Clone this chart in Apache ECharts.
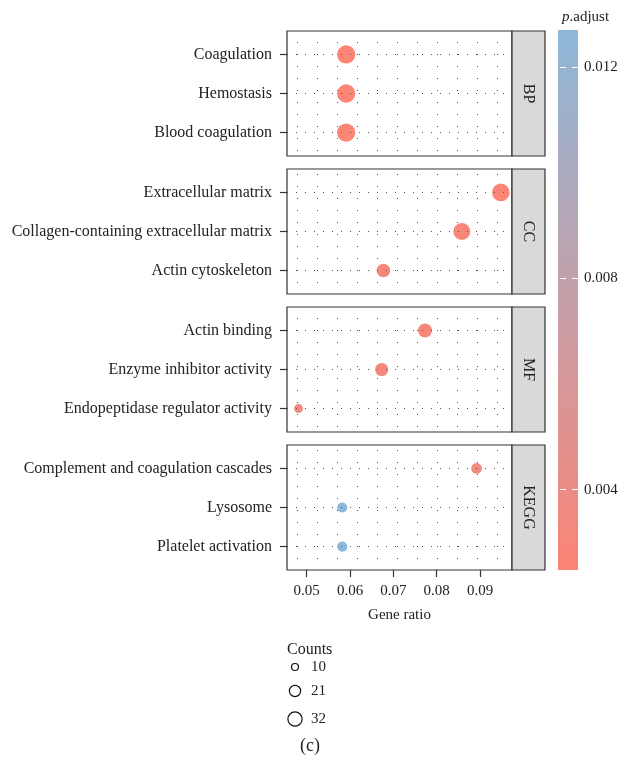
<!DOCTYPE html>
<html><head><meta charset="utf-8">
<script src="https://cdn.jsdelivr.net/npm/echarts@6/dist/echarts.min.js"></script>
<style>html,body{margin:0;padding:0;background:#fff}#c{width:623px;height:767px}</style>
</head><body><div id="c"></div>
<script>
// ---- data ----
const ontologies = ['BP', 'CC', 'MF', 'KEGG'];

const bpTerms = ['Coagulation', 'Hemostasis', 'Blood coagulation'];
const bpRatio = [0.0591, 0.0591, 0.0591];
const bpCounts = [32, 32, 32];
const bpPadj = [0.00248, 0.00250, 0.00252];

const ccTerms = ['Extracellular matrix', 'Collagen-containing extracellular matrix', 'Actin cytoskeleton'];
const ccRatio = [0.0948, 0.0858, 0.0677];
const ccCounts = [30, 28, 19];
const ccPadj = [0.0026, 0.0027, 0.0030];

const mfTerms = ['Actin binding', 'Enzyme inhibitor activity', 'Endopeptidase regulator activity'];
const mfRatio = [0.0773, 0.0673, 0.0481];
const mfCounts = [20, 18, 10];
const mfPadj = [0.0029, 0.0031, 0.0034];

const keggTerms = ['Complement and coagulation cascades', 'Lysosome', 'Platelet activation'];
const keggRatio = [0.0892, 0.0582, 0.0582];
const keggCounts = [13, 12, 12];
const keggPadj = [0.0034, 0.0127, 0.0127];

const xTicks = [0.05, 0.06, 0.07, 0.08, 0.09];
const pTicks = [0.004, 0.008, 0.012];
const countBreaks = [10, 21, 32];

// ---- build ----
const termSets = [bpTerms, ccTerms, mfTerms, keggTerms];
const ratioSets = [bpRatio, ccRatio, mfRatio, keggRatio];
const countSets = [bpCounts, ccCounts, mfCounts, keggCounts];
const padjSets = [bpPadj, ccPadj, mfPadj, keggPadj];

const allP = [].concat(bpPadj, ccPadj, mfPadj, keggPadj);
const pMin = Math.min.apply(null, allP);
const pMax = Math.max.apply(null, allP);

const LOW = '#FC8576', HIGH = '#8DB8D9';
const FONT = 'Liberation Serif';
const X_MIN = 0.04545, X_MAX = 0.09738;

function diam(c) { return Math.sqrt(81 + 11.5 * (c - 10)); }
function legendDiam(c) { return 0.78 * diam(c); }

// dotted texture
const tile = document.createElement('canvas');
tile.width = 20; tile.height = 12;
const tctx = tile.getContext('2d');
tctx.fillStyle = '#555';
tctx.fillRect(17, 6, 1, 1);
const dotPattern = { image: tile, repeat: 'repeat' };

const PANEL_LEFT = 287, PANEL_W = 225, PANEL_H = 125, PANEL_TOP = 31, PANEL_STEP = 138, STRIP_W = 33;
const TXT = '#222';

const grids = [], xAxes = [], yAxes = [], series = [], graphics = [];
ontologies.forEach((ont, i) => {
  const top = PANEL_TOP + PANEL_STEP * i;
  const last = i === ontologies.length - 1;
  grids.push({ left: PANEL_LEFT, top: top, width: PANEL_W, height: PANEL_H, show: true,
    borderColor: '#333', borderWidth: 1.2, backgroundColor: dotPattern });
  xAxes.push({ type: 'value', gridIndex: i, min: X_MIN, max: X_MAX, position: 'bottom',
    axisLine: { show: false, onZero: false }, splitLine: { show: false },
    axisTick: { show: last, customValues: xTicks, length: 7, lineStyle: { color: '#333', width: 1.2 } },
    axisLabel: { show: last, customValues: xTicks, formatter: v => v.toFixed(2), margin: 14,
      fontFamily: FONT, fontSize: 15, color: TXT },
    name: last ? 'Gene ratio' : '', nameLocation: 'middle', nameGap: 38,
    nameTextStyle: { fontFamily: FONT, fontSize: 15, color: TXT } });
  const terms = termSets[i];
  const idx = terms.map((t, k) => k);
  yAxes.push({ type: 'value', gridIndex: i, min: -0.6, max: idx.length - 0.4, inverse: true, position: 'left',
    axisLine: { show: false, onZero: false }, splitLine: { show: false },
    axisTick: { customValues: idx, length: 7, lineStyle: { color: '#333', width: 1.2 } },
    axisLabel: { customValues: idx, formatter: v => terms[Math.round(v)], margin: 15,
      fontFamily: FONT, fontSize: 16, color: TXT } });
  series.push({ type: 'scatter', xAxisIndex: i, yAxisIndex: i,
    data: terms.map((t, k) => [ratioSets[i][k], k, countSets[i][k], padjSets[i][k], t]),
    symbolSize: v => diam(v[2]),
    itemStyle: { opacity: 1 },
    markLine: { silent: true, symbol: 'none', animation: false, label: { show: false },
      lineStyle: { type: [1, 8], color: '#555', width: 1 },
      data: idx.map(k => ({ yAxis: k })) },
    z: 3 });
  graphics.push({ type: 'rect', shape: { x: PANEL_LEFT + PANEL_W, y: top, width: STRIP_W, height: PANEL_H },
    style: { fill: '#D9D9D9', stroke: '#333', lineWidth: 1.2 } });
  graphics.push({ type: 'text', x: PANEL_LEFT + PANEL_W + STRIP_W / 2, y: top + PANEL_H / 2, rotation: -Math.PI / 2,
    style: { text: ont, fill: TXT, font: '16px "' + FONT + '"', align: 'center', verticalAlign: 'middle' } });
});

// colour bar grid
grids.push({ left: 558, top: 30, width: 20, height: 540, show: true, borderWidth: 0,
  backgroundColor: { type: 'linear', x: 0, y: 1, x2: 0, y2: 0,
    colorStops: [{ offset: 0, color: LOW }, { offset: 1, color: HIGH }] } });
xAxes.push({ type: 'value', gridIndex: 4, show: false, min: 0, max: 1 });
yAxes.push({ type: 'value', gridIndex: 4, position: 'right', min: pMin, max: pMax,
  axisLine: { show: false, onZero: false }, splitLine: { show: false },
  axisTick: { customValues: pTicks, inside: true, length: 20, lineStyle: { color: '#fff', width: 1, type: [6, 6] } },
  axisLabel: { customValues: pTicks, formatter: v => v.toFixed(3), margin: 6,
    fontFamily: FONT, fontSize: 15, color: TXT } });

// counts legend
graphics.push({ type: 'text', x: 287, y: 650,
  style: { text: 'Counts', fill: TXT, font: '16px "' + FONT + '"', align: 'left', verticalAlign: 'middle' } });
const legendY = [667, 691, 719];
countBreaks.forEach((c, k) => {
  graphics.push({ type: 'circle', shape: { cx: 295, cy: legendY[k], r: legendDiam(c) / 2 },
    style: { fill: '#fff', stroke: '#111', lineWidth: 1.2 } });
  graphics.push({ type: 'text', x: 311, y: legendY[k],
    style: { text: String(c), fill: TXT, font: '15px "' + FONT + '"', align: 'left', verticalAlign: 'middle' } });
});
graphics.push({ type: 'text', x: 310, y: 746,
  style: { text: '(c)', fill: TXT, font: '18px "' + FONT + '"', align: 'center', verticalAlign: 'middle' } });

const chart = echarts.init(document.getElementById('c'), null, { renderer: 'canvas' });
chart.setOption({
  animation: false,
  backgroundColor: '#fff',
  title: { text: '{i|p}.adjust', left: 557, top: 5,
    textStyle: { fontFamily: FONT, fontSize: 15, fontWeight: 'normal', color: TXT,
      rich: { i: { fontStyle: 'italic', fontFamily: FONT, fontSize: 15, color: TXT } } } },
  grid: grids, xAxis: xAxes, yAxis: yAxes, series: series,
  visualMap: { type: 'continuous', show: false, min: pMin, max: pMax, dimension: 3,
    seriesIndex: [0, 1, 2, 3], inRange: { color: [LOW, HIGH] } },
  graphic: graphics
});
</script></body></html>
